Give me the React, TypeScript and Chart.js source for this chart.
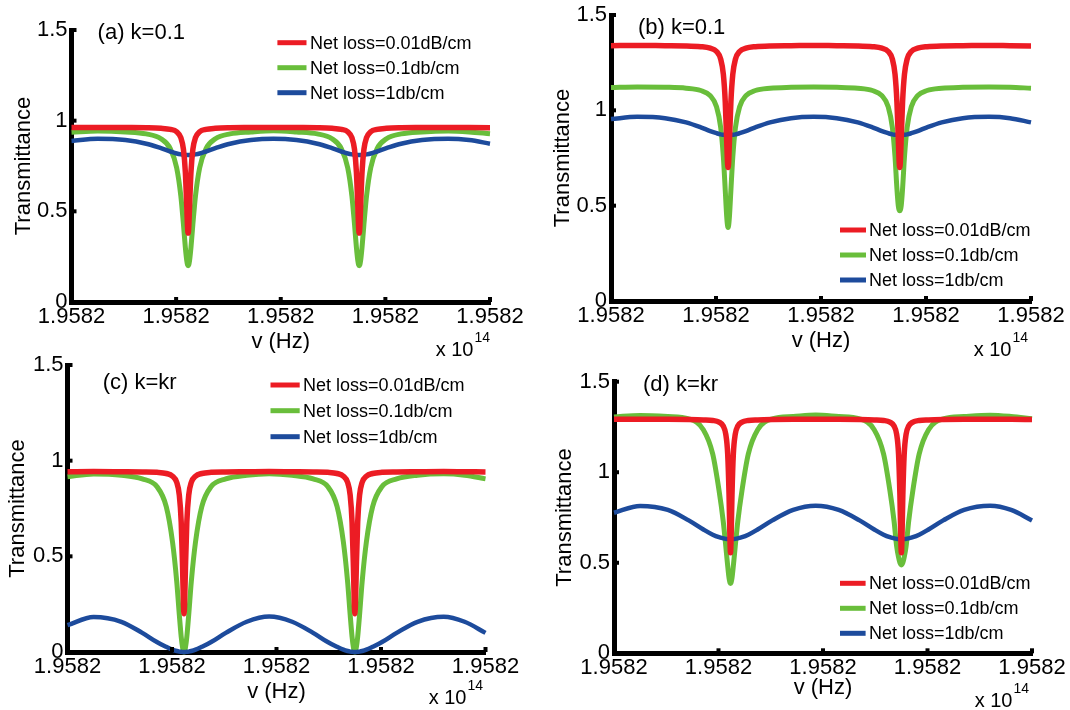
import React, { useEffect, useRef } from 'react';
import { Chart, registerables } from 'chart.js';

Chart.register(...registerables);

// ---------- data (frequency offset in tick units, transmittance) ----------
const freqOffsets = [0, 0.25, 0.515, 0.715, 0.855, 0.945, 1.005, 1.045, 1.07, 1.088, 1.101, 1.11, 1.115, 1.12, 1.129, 1.142, 1.16, 1.185, 1.225, 1.285, 1.375, 1.515, 1.715, 1.93, 2.15, 2.35, 2.49, 2.58, 2.64, 2.68, 2.705, 2.723, 2.736, 2.745, 2.75, 2.755, 2.764, 2.777, 2.795, 2.82, 2.86, 2.92, 3.01, 3.15, 3.35, 3.6, 3.8, 4.0];

const xTickLabels = ['1.9582', '1.9582', '1.9582', '1.9582', '1.9582'];
const yTickLabels = ['0', '0.5', '1', '1.5'];
const seriesNames = ['Net loss=0.01dB/cm', 'Net loss=0.1db/cm', 'Net loss=1db/cm'];
const panelTitles = ['(a) k=0.1', '(b) k=0.1', '(c) k=kr', '(d) k=kr'];
const xAxisTitle = 'v (Hz)';
const yAxisTitle = 'Transmittance';
const exponentBase = 'x 10';
const exponentPower = '14';

const redA = [0.962, 0.963, 0.962, 0.961, 0.958, 0.952, 0.939, 0.906, 0.842, 0.718, 0.537, 0.406, 0.38, 0.406, 0.537, 0.718, 0.842, 0.906, 0.939, 0.952, 0.958, 0.961, 0.962, 0.963, 0.962, 0.961, 0.958, 0.952, 0.939, 0.906, 0.842, 0.718, 0.537, 0.406, 0.38, 0.406, 0.537, 0.718, 0.842, 0.906, 0.939, 0.952, 0.958, 0.961, 0.962, 0.963, 0.962, 0.961];
const greenA = [0.936, 0.943, 0.938, 0.927, 0.9, 0.845, 0.741, 0.585, 0.428, 0.302, 0.231, 0.204, 0.2, 0.204, 0.231, 0.302, 0.428, 0.585, 0.741, 0.845, 0.9, 0.927, 0.938, 0.945, 0.938, 0.927, 0.9, 0.845, 0.741, 0.585, 0.428, 0.302, 0.231, 0.204, 0.2, 0.204, 0.231, 0.302, 0.428, 0.585, 0.741, 0.845, 0.9, 0.927, 0.938, 0.943, 0.938, 0.928];
const blueA = [0.888, 0.9, 0.893, 0.873, 0.848, 0.83, 0.819, 0.814, 0.812, 0.811, 0.81, 0.81, 0.81, 0.81, 0.81, 0.811, 0.812, 0.814, 0.819, 0.83, 0.848, 0.873, 0.893, 0.9, 0.893, 0.873, 0.848, 0.83, 0.819, 0.814, 0.812, 0.811, 0.81, 0.81, 0.81, 0.81, 0.81, 0.811, 0.812, 0.814, 0.819, 0.83, 0.848, 0.873, 0.893, 0.9, 0.893, 0.873];

const redB = [1.339, 1.34, 1.339, 1.338, 1.334, 1.326, 1.309, 1.268, 1.189, 1.045, 0.853, 0.725, 0.7, 0.725, 0.853, 1.045, 1.189, 1.268, 1.309, 1.326, 1.334, 1.338, 1.339, 1.34, 1.339, 1.338, 1.334, 1.326, 1.309, 1.268, 1.189, 1.045, 0.853, 0.725, 0.7, 0.725, 0.853, 1.045, 1.189, 1.268, 1.309, 1.326, 1.334, 1.338, 1.339, 1.34, 1.339, 1.338];
const greenB = [1.12, 1.123, 1.121, 1.116, 1.104, 1.077, 1.019, 0.909, 0.756, 0.582, 0.451, 0.395, 0.386, 0.395, 0.451, 0.582, 0.756, 0.909, 1.019, 1.077, 1.104, 1.116, 1.121, 1.123, 1.121, 1.116, 1.104, 1.077, 1.019, 0.909, 0.756, 0.59, 0.5, 0.476, 0.473, 0.476, 0.5, 0.59, 0.756, 0.909, 1.019, 1.077, 1.104, 1.116, 1.121, 1.123, 1.121, 1.116];
const blueB = [0.954, 0.966, 0.959, 0.937, 0.911, 0.891, 0.88, 0.874, 0.872, 0.871, 0.87, 0.87, 0.87, 0.87, 0.87, 0.871, 0.872, 0.874, 0.88, 0.891, 0.911, 0.937, 0.959, 0.966, 0.959, 0.937, 0.911, 0.891, 0.88, 0.874, 0.872, 0.871, 0.87, 0.87, 0.87, 0.87, 0.87, 0.871, 0.872, 0.874, 0.88, 0.891, 0.911, 0.937, 0.959, 0.966, 0.959, 0.937];

const redC = [0.942, 0.943, 0.942, 0.941, 0.939, 0.933, 0.919, 0.887, 0.82, 0.68, 0.445, 0.244, 0.2, 0.244, 0.445, 0.68, 0.82, 0.887, 0.919, 0.933, 0.939, 0.941, 0.942, 0.943, 0.942, 0.941, 0.939, 0.933, 0.919, 0.887, 0.82, 0.68, 0.445, 0.244, 0.2, 0.244, 0.445, 0.68, 0.82, 0.887, 0.919, 0.933, 0.939, 0.941, 0.942, 0.943, 0.942, 0.941];
const greenC = [0.916, 0.93, 0.924, 0.905, 0.865, 0.76, 0.575, 0.37, 0.195, 0.08, 0.024, 0.003, 0, 0.003, 0.024, 0.08, 0.195, 0.37, 0.575, 0.76, 0.865, 0.905, 0.924, 0.932, 0.924, 0.905, 0.865, 0.76, 0.575, 0.37, 0.195, 0.08, 0.024, 0.003, 0, 0.003, 0.024, 0.08, 0.195, 0.37, 0.575, 0.76, 0.865, 0.905, 0.924, 0.931, 0.924, 0.905];
const blueC = [0.14, 0.183, 0.158, 0.1, 0.052, 0.027, 0.012, 0.005, 0.002, 0.001, 0, 0, 0, 0, 0, 0.001, 0.002, 0.005, 0.012, 0.027, 0.052, 0.1, 0.158, 0.185, 0.158, 0.1, 0.052, 0.027, 0.012, 0.005, 0.002, 0.001, 0, 0, 0, 0, 0, 0.001, 0.002, 0.005, 0.012, 0.027, 0.052, 0.1, 0.158, 0.184, 0.158, 0.1];

const redD = [1.292, 1.292, 1.292, 1.291, 1.289, 1.286, 1.277, 1.255, 1.209, 1.1, 0.875, 0.621, 0.555, 0.621, 0.875, 1.1, 1.209, 1.255, 1.277, 1.286, 1.289, 1.291, 1.292, 1.292, 1.292, 1.291, 1.289, 1.286, 1.277, 1.255, 1.209, 1.1, 0.875, 0.621, 0.555, 0.621, 0.875, 1.1, 1.209, 1.255, 1.277, 1.286, 1.289, 1.291, 1.292, 1.292, 1.292, 1.291];
const greenD = [1.305, 1.314, 1.308, 1.295, 1.235, 1.1, 0.9, 0.73, 0.59, 0.482, 0.415, 0.39, 0.386, 0.39, 0.415, 0.482, 0.59, 0.73, 0.9, 1.1, 1.235, 1.295, 1.308, 1.316, 1.308, 1.295, 1.235, 1.1, 0.9, 0.73, 0.59, 0.53, 0.5, 0.49, 0.488, 0.49, 0.5, 0.53, 0.59, 0.73, 0.9, 1.1, 1.235, 1.295, 1.308, 1.315, 1.308, 1.295];
const blueD = [0.776, 0.814, 0.792, 0.734, 0.684, 0.655, 0.641, 0.635, 0.632, 0.631, 0.63, 0.63, 0.63, 0.63, 0.63, 0.631, 0.632, 0.635, 0.641, 0.655, 0.684, 0.734, 0.792, 0.815, 0.792, 0.734, 0.684, 0.655, 0.641, 0.635, 0.632, 0.631, 0.63, 0.63, 0.63, 0.63, 0.63, 0.631, 0.632, 0.635, 0.641, 0.655, 0.684, 0.734, 0.792, 0.815, 0.792, 0.734];

// ---------- styles & layout ----------
const COLORS = ['#ec1c24', '#69be3b', '#1d4b9c'];
const LINE_WIDTHS = [5.5, 5, 4.5];
const SANS = "'Liberation Sans', Arial, Helvetica, sans-serif";

type Box = { left: number; top: number; width: number; height: number };
type Area = { left: number; right: number; top: number; bottom: number };
type Panel = {
  title: string;
  series: number[][];
  canvas: Box;
  area: Area;
  yTitleX: number;
  xTitleY: number;
  label: { x: number; y: number };
  legend: { x1: number; x2: number; tx: number; ys: number[] };
  expBaseline: number;
  expRight: number;
};

const PANELS: Panel[] = [
  {
    title: panelTitles[0], series: [redA, greenA, blueA],
    canvas: { left: 0, top: 0, width: 535, height: 360 },
    area: { left: 71.5, right: 490, top: 30, bottom: 302 },
    yTitleX: 24, xTitleY: 342, label: { x: 97.6, y: 32.5 },
    legend: { x1: 277.4, x2: 306.5, tx: 310, ys: [42.7, 67.7, 92.7] },
    expBaseline: 356, expRight: 490,
  },
  {
    title: panelTitles[1], series: [redB, greenB, blueB],
    canvas: { left: 535, top: 0, width: 535, height: 360 },
    area: { left: 611, right: 1031, top: 15, bottom: 301 },
    yTitleX: 563.4, xTitleY: 341, label: { x: 637.9, y: 27.5 },
    legend: { x1: 840, x2: 866, tx: 869, ys: [230, 255, 280] },
    expBaseline: 356, expRight: 1028,
  },
  {
    title: panelTitles[2], series: [redC, greenC, blueC],
    canvas: { left: 0, top: 340, width: 535, height: 370 },
    area: { left: 67.5, right: 485.5, top: 365, bottom: 652 },
    yTitleX: 18, xTitleY: 692, label: { x: 102.7, y: 382.5 },
    legend: { x1: 270.5, x2: 299.7, tx: 303, ys: [385, 410.7, 436.7] },
    expBaseline: 704, expRight: 483,
  },
  {
    title: panelTitles[3], series: [redD, greenD, blueD],
    canvas: { left: 535, top: 340, width: 535, height: 370 },
    area: { left: 614, right: 1032, top: 381.7, bottom: 653.3 },
    yTitleX: 565.1, xTitleY: 688, label: { x: 643, y: 384.5 },
    legend: { x1: 840, x2: 865.6, tx: 869, ys: [583.3, 608.3, 633.3] },
    expBaseline: 707, expRight: 1029,
  },
];

function PanelChart({ spec }: { spec: Panel }) {
  const ref = useRef<HTMLCanvasElement | null>(null);

  useEffect(() => {
    if (!ref.current) return;
    const c = spec.canvas;
    const a = spec.area;
    const Y_TITLE_SIZE = 22;
    const X_TITLE_SIZE = 22;
    const TICK_SIZE = 22;

    const overlay = {
      id: 'panelOverlay',
      afterDatasetsDraw(chart: any) {
        const ctx = chart.ctx as CanvasRenderingContext2D;
        const ox = c.left;
        const oy = c.top;
        const area = chart.chartArea;
        const xs = chart.scales.x;
        const ys = chart.scales.y;
        ctx.save();
        // inward tick marks
        ctx.fillStyle = '#000';
        ys.ticks.forEach((t: any) => {
          if (t.value <= 0) return;
          const py = ys.getPixelForValue(t.value);
          ctx.fillRect(area.left, py - 2, 5, 4);
        });
        xs.ticks.forEach((t: any) => {
          if (t.value <= 0) return;
          const px = xs.getPixelForValue(t.value);
          ctx.fillRect(px - 2, area.bottom - 5, 4, 5);
        });
        // panel label
        ctx.font = `22px ${SANS}`;
        ctx.textAlign = 'left';
        ctx.textBaseline = 'middle';
        ctx.fillText(spec.title, spec.label.x - ox, spec.label.y - oy);
        // legend
        ctx.font = `18px ${SANS}`;
        seriesNames.forEach((name, i) => {
          const y = spec.legend.ys[i] - oy;
          ctx.strokeStyle = COLORS[i];
          ctx.lineWidth = 5;
          ctx.lineCap = 'butt';
          ctx.beginPath();
          ctx.moveTo(spec.legend.x1 - ox, y);
          ctx.lineTo(spec.legend.x2 - ox, y);
          ctx.stroke();
          ctx.fillStyle = '#000';
          ctx.fillText(name, spec.legend.tx - ox, y + 1);
        });
        // exponent "x 10^14"
        ctx.textBaseline = 'alphabetic';
        ctx.font = `20px ${SANS}`;
        const w1 = ctx.measureText(exponentBase).width;
        ctx.font = `14px ${SANS}`;
        const w2 = ctx.measureText(exponentPower).width;
        const start = spec.expRight - ox - w1 - w2 - 1;
        ctx.font = `20px ${SANS}`;
        ctx.fillText(exponentBase, start, spec.expBaseline - oy);
        ctx.font = `14px ${SANS}`;
        ctx.fillText(exponentPower, start + w1 + 1, spec.expBaseline - oy - 14);
        ctx.restore();
      },
    };

    const datasets = spec.series.map((vals, i) => ({
      label: seriesNames[i],
      data: freqOffsets.map((x, j) => ({ x, y: vals[j] })),
      borderColor: COLORS[i],
      backgroundColor: COLORS[i],
      borderWidth: LINE_WIDTHS[i],
      pointRadius: 0,
      fill: false,
      cubicInterpolationMode: 'monotone' as const,
      clip: false as const,
      order: [0, 2, 1][i],
    }));

    const chart = new Chart(ref.current, {
      type: 'line',
      data: { datasets },
      plugins: [overlay],
      options: {
        animation: false,
        responsive: false,
        devicePixelRatio: 1,
        events: [],
        layout: {
          padding: {
            left: 0,
            top: a.top - c.top,
            right: c.left + c.width - a.right,
            bottom: 0,
          },
        },
        plugins: {
          legend: { display: false },
          tooltip: { enabled: false },
        },
        scales: {
          x: {
            type: 'linear',
            min: 0,
            max: 4,
            grid: { display: false, drawTicks: false, tickLength: 0 },
            border: { display: true, width: 5, color: '#000' },
            ticks: {
              stepSize: 1,
              autoSkip: false,
              maxRotation: 0,
              padding: 4,
              color: '#000',
              font: { family: SANS, size: TICK_SIZE, lineHeight: 1 },
              callback: (_v: any, i: number) => xTickLabels[i],
            },
            title: {
              display: true,
              text: xAxisTitle,
              color: '#000',
              font: { family: SANS, size: X_TITLE_SIZE, lineHeight: 1 },
              padding: { top: 0, bottom: c.top + c.height - spec.xTitleY - X_TITLE_SIZE / 2 },
            },
            afterFit: (scale: any) => {
              scale.height = c.top + c.height - a.bottom;
            },
          },
          y: {
            type: 'linear',
            min: 0,
            max: 1.5,
            grid: { display: false, drawTicks: false, tickLength: 0 },
            border: { display: true, width: 5, color: '#000' },
            ticks: {
              stepSize: 0.5,
              padding: 4,
              color: '#000',
              font: { family: SANS, size: TICK_SIZE, lineHeight: 1 },
              callback: (_v: any, i: number) => yTickLabels[i],
            },
            title: {
              display: true,
              text: yAxisTitle,
              color: '#000',
              font: { family: SANS, size: Y_TITLE_SIZE, lineHeight: 1 },
              padding: { top: spec.yTitleX - c.left - Y_TITLE_SIZE / 2, bottom: 0 },
            },
            afterFit: (scale: any) => {
              scale.width = a.left - c.left;
            },
          },
        },
      } as any,
    });

    return () => chart.destroy();
  }, [spec]);

  const c = spec.canvas;
  return (
    <canvas
      ref={ref}
      width={c.width}
      height={c.height}
      style={{ position: 'absolute', left: c.left, top: c.top, width: c.width, height: c.height }}
    />
  );
}

export default function App() {
  return (
    <div style={{ position: 'absolute', left: 0, top: 0, width: 1070, height: 710, background: '#fff', overflow: 'hidden' }}>
      {PANELS.map((p, i) => (
        <PanelChart key={i} spec={p} />
      ))}
    </div>
  );
}
